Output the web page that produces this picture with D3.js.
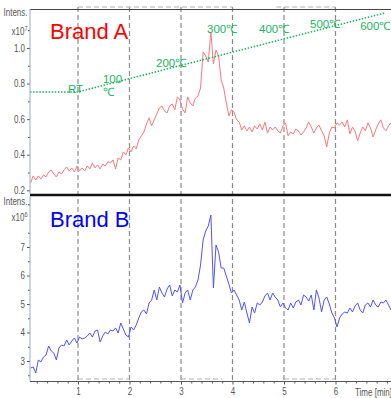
<!DOCTYPE html>
<html><head><meta charset="utf-8">
<script src="https://cdn.jsdelivr.net/npm/d3@7"></script>
<style>
body{margin:0;background:#fff;}
svg{display:block;}
.axis-text{font-family:'Liberation Sans Narrow','Liberation Sans',Arial,sans-serif;font-size:10px;fill:#555;}
</style></head><body><svg id="chart" width="391" height="398"></svg>
<script>
// Sampling times (min)
const times = [
0.08,0.13,0.18,0.23,0.28,0.33,0.38,0.43,0.48,0.53,
0.58,0.63,0.68,0.73,0.78,0.83,0.88,0.93,0.98,1.03,
1.08,1.13,1.18,1.23,1.28,1.33,1.38,1.43,1.48,1.53,
1.58,1.63,1.68,1.73,1.78,1.83,1.88,1.93,1.98,2.03,
2.08,2.13,2.18,2.23,2.28,2.33,2.38,2.43,2.48,2.53,
2.58,2.63,2.68,2.73,2.78,2.83,2.88,2.93,2.98,3.03,
3.08,3.13,3.18,3.23,3.28,3.33,3.38,3.43,3.48,3.53,
3.58,3.63,3.68,3.73,3.78,3.83,3.88,3.93,3.98,4.03,
4.08,4.13,4.18,4.23,4.28,4.33,4.38,4.43,4.48,4.53,
4.58,4.63,4.68,4.73,4.78,4.83,4.88,4.93,4.98,5.03,
5.08,5.13,5.18,5.23,5.28,5.33,5.38,5.43,5.48,5.53,
5.58,5.63,5.68,5.73,5.78,5.83,5.88,5.93,5.98,6.03,
6.08,6.13,6.18,6.23,6.28,6.33,6.38,6.43,6.48,6.53,
6.58,6.63,6.68,6.73,6.78,6.83,6.88,6.93,6.98,7.03,
7.08];

// Brand A intensity (x10^7)
const brandA = [
0.242,0.281,0.258,0.281,0.264,0.287,0.275,0.303,0.315,0.292,
0.275,0.303,0.292,0.315,0.331,0.309,0.326,0.303,0.337,0.309,
0.326,0.309,0.337,0.320,0.354,0.326,0.343,0.320,0.348,0.337,
0.360,0.354,0.371,0.320,0.382,0.371,0.416,0.399,0.438,0.416,
0.449,0.433,0.483,0.506,0.528,0.573,0.607,0.562,0.596,0.629,
0.663,0.674,0.646,0.635,0.674,0.685,0.652,0.725,0.708,0.657,
0.635,0.725,0.691,0.674,0.719,0.730,0.775,0.978,0.955,0.921,
1.090,0.910,0.989,0.955,0.820,0.775,0.691,0.618,0.652,0.640,
0.596,0.584,0.539,0.562,0.534,0.556,0.528,0.562,0.545,0.573,
0.539,0.584,0.522,0.556,0.539,0.556,0.534,0.522,0.562,0.579,
0.506,0.528,0.517,0.545,0.534,0.511,0.528,0.551,0.584,0.556,
0.522,0.551,0.567,0.534,0.506,0.444,0.522,0.556,0.551,0.579,
0.567,0.584,0.556,0.596,0.517,0.556,0.534,0.478,0.522,0.556,
0.534,0.579,0.551,0.500,0.539,0.573,0.596,0.551,0.534,0.562,
0.579];

// Brand B intensity (x10^6)
const brandB = [
2.754,2.789,2.579,3.035,2.965,3.140,3.211,3.526,3.351,3.281,
3.035,3.456,3.561,3.526,3.737,3.561,3.702,3.807,3.632,3.842,
3.772,3.807,3.877,3.982,3.842,4.053,4.088,3.667,3.877,4.018,
3.947,4.088,4.053,4.158,3.982,4.333,4.123,3.912,3.842,4.193,
4.088,4.263,4.509,4.719,4.789,4.649,5.035,5.140,5.491,5.140,
5.596,5.386,5.246,5.526,5.667,5.281,5.491,5.421,5.667,5.035,
5.386,5.491,5.140,5.491,5.596,5.842,6.368,7.246,7.561,7.737,
8.123,5.561,7.070,6.825,6.263,6.263,5.982,5.702,5.386,5.491,
5.316,5.140,4.789,5.070,4.684,4.333,4.895,4.684,5.035,4.965,
5.070,5.281,5.386,5.140,5.386,5.246,5.140,4.895,5.035,4.860,
4.789,5.035,4.860,5.070,5.140,4.965,5.316,5.246,5.105,5.316,
4.789,5.491,5.211,4.719,5.140,5.246,5.000,4.684,4.509,4.193,
4.509,4.649,4.719,4.684,4.860,4.719,4.930,5.035,4.789,4.684,
4.965,5.035,4.895,5.140,4.965,4.895,5.070,5.035,5.140,4.965,
4.789];

const topTicks = [0.2,0.4,0.6,0.8,1.0];
const topMinor = [0.3,0.5,0.7,0.9,1.1];
const bottomTicks = [3,4,5,6,7];
const bottomMinor = [2.5,3.5,4.5,5.5,6.5,7.5,8.5];
const timeTicks = [1,2,3,4,5,6];
const timeMinor = [0.2,0.4,0.6,0.8,1.2,1.4,1.6,1.8,2.2,2.4,2.6,2.8,3.2,3.4,3.6,3.8,
  4.2,4.4,4.6,4.8,5.2,5.4,5.6,5.8,6.2,6.4,6.6,6.8,7.0];
const markerTimes = [1,2,3,4,5,6];

// Oven temperature program, drawn on the Brand A panel
const tempTime = [0.068,1.0,6.96];
const tempLevel = [0.753,0.753,1.197];
const tempLabels = ["RT","100","℃","200℃","300℃","400℃","500℃","600℃"];
const tempLabelTime = [0.806,1.485,1.485,2.515,3.505,4.515,5.505,6.48];
const tempLabelLevel = [0.747,0.803,0.730,0.893,1.084,1.084,1.112,1.101];

const svg = d3.select("#chart");
const x = d3.scaleLinear().domain([0.068, 7.078]).range([30, 391]);
const yA = d3.scaleLinear().domain([0.185, 1.219]).range([193, 9]);
const yB = d3.scaleLinear().domain([2.298, 8.79]).range([381, 196]);
const narrow = "scale(0.8,1)";

// dashed time markers across both panels
svg.append("g").selectAll("line").data(markerTimes).join("line")
  .attr("x1", d => x(d)).attr("x2", d => x(d))
  .attr("y1", 7).attr("y2", 381)
  .attr("stroke", "#8a8a8a").attr("stroke-width", 1.2)
  .attr("stroke-dasharray", "5,3");
const dashRuns = [[1,4],[4.85,6]];
svg.append("g").selectAll("line").data(dashRuns).join("line")
  .attr("x1", d => x(d[0])).attr("x2", d => x(d[1]))
  .attr("y1", 7).attr("y2", 7)
  .attr("stroke", "#b0b0b0").attr("stroke-width", 1).attr("stroke-dasharray", "5,3");
const dashRunsB = [[1,2],[3,3.8],[5,6]];
svg.append("g").selectAll("line").data(dashRunsB).join("line")
  .attr("x1", d => x(d[0])).attr("x2", d => x(d[1]))
  .attr("y1", 379).attr("y2", 379)
  .attr("stroke", "#b0b0b0").attr("stroke-width", 1).attr("stroke-dasharray", "5,3");

// frame lines
svg.append("line").attr("x1", 30).attr("x2", 391).attr("y1", 9.5).attr("y2", 9.5)
  .attr("stroke", "#444").attr("stroke-width", 1);
svg.append("line").attr("x1", 30).attr("x2", 391).attr("y1", 195).attr("y2", 195)
  .attr("stroke", "#111").attr("stroke-width", 2.6);
svg.append("line").attr("x1", 30).attr("x2", 391).attr("y1", 381.5).attr("y2", 381.5)
  .attr("stroke", "#555").attr("stroke-width", 1);

// traces
const lineA = d3.line().x((d, i) => x(times[i])).y(d => yA(d));
const lineB = d3.line().x((d, i) => x(times[i])).y(d => yB(d));
svg.append("path").datum(brandA).attr("d", lineA)
  .attr("fill", "none").attr("stroke", "#f47a82").attr("stroke-width", 1)
  .attr("stroke-linejoin", "round");
svg.append("path").datum(brandB).attr("d", lineB)
  .attr("fill", "none").attr("stroke", "#5252f6").attr("stroke-width", 1)
  .attr("stroke-linejoin", "round");

// temperature program
const tempLine = d3.line().x((d, i) => x(tempTime[i])).y(d => yA(d));
svg.append("path").datum(tempLevel).attr("d", tempLine)
  .attr("fill", "none").attr("stroke", "#1db25a").attr("stroke-width", 1.5)
  .attr("stroke-dasharray", "1.5,1.6");
svg.append("g").selectAll("text").data(tempLabels).join("text")
  .attr("x", (d, i) => x(tempLabelTime[i]))
  .attr("y", (d, i) => yA(tempLabelLevel[i]))
  .attr("font-family", "'Liberation Sans', Arial, sans-serif")
  .attr("font-size", 11.5).attr("fill", "#22b35e")
  .text(d => d);

// axes
function styleAxis(g) {
  g.select(".domain").remove();
  g.selectAll(".tick line").attr("stroke", "#555");
  g.selectAll(".tick text").attr("class", "axis-text").attr("fill", null)
    .attr("font-family", null).attr("font-size", null);
}
function narrowLeft(g) {
  g.selectAll(".tick text").attr("x", 0).attr("transform", "translate(-5,0) " + narrow);
}
svg.append("g").attr("transform", "translate(30,0)")
  .call(d3.axisLeft(yA).tickValues(topTicks).tickSize(3).tickPadding(2).tickFormat(d3.format(".1f")))
  .call(styleAxis).call(narrowLeft);
svg.append("g").attr("transform", "translate(30,0)")
  .call(d3.axisLeft(yA).tickValues(topMinor).tickSize(2).tickFormat(""))
  .call(styleAxis);
svg.append("g").attr("transform", "translate(30,0)")
  .call(d3.axisLeft(yB).tickValues(bottomTicks).tickSize(3).tickPadding(2).tickFormat(d3.format("d")))
  .call(styleAxis).call(narrowLeft);
svg.append("g").attr("transform", "translate(30,0)")
  .call(d3.axisLeft(yB).tickValues(bottomMinor).tickSize(2).tickFormat(""))
  .call(styleAxis);
svg.append("g").attr("transform", "translate(0,381.5)")
  .call(d3.axisBottom(x).tickValues(timeTicks).tickSize(3).tickPadding(3).tickFormat(d3.format("d")))
  .call(styleAxis)
  .call(g => g.selectAll(".tick text").attr("transform", narrow));
svg.append("g").attr("transform", "translate(0,381.5)")
  .call(d3.axisBottom(x).tickValues(timeMinor).tickSize(2).tickFormat(""))
  .call(styleAxis);

// left spine lines
svg.append("line").attr("x1", 30).attr("x2", 30).attr("y1", 9).attr("y2", 194)
  .attr("stroke", "#9aa8c4").attr("stroke-width", 1);
svg.append("line").attr("x1", 30).attr("x2", 30).attr("y1", 196).attr("y2", 381)
  .attr("stroke", "#9aa8c4").attr("stroke-width", 1);

// axis titles
const unitText = [
  {y: 16, label: "Intens.", exp: null},
  {y: 35, label: "x10", exp: "7"},
  {y: 205, label: "Intens.", exp: null},
  {y: 221, label: "x10", exp: "6"}
];
unitText.forEach(u => {
  const t = svg.append("g").attr("transform", `translate(27.5,${u.y}) ${narrow}`)
    .append("text").attr("class", "axis-text").attr("font-size", 9)
    .attr("x", 0).attr("y", 0).attr("text-anchor", "end");
  t.append("tspan").text(u.label);
  if (u.exp) t.append("tspan").attr("dy", -4).attr("font-size", 7).text(u.exp);
});
svg.append("g").attr("transform", `translate(392,396) ${narrow}`)
  .append("text").attr("class", "axis-text").attr("text-anchor", "end").text("Time [min]");

// brand titles
svg.append("text").attr("x", 50).attr("y", 39)
  .attr("font-family", "'Liberation Sans', Arial, sans-serif").attr("font-size", 22)
  .attr("fill", "#ff0000").text("Brand A");
svg.append("text").attr("x", 50).attr("y", 227)
  .attr("font-family", "'Liberation Sans', Arial, sans-serif").attr("font-size", 22)
  .attr("fill", "#0000ff").text("Brand B");
</script></body></html>
